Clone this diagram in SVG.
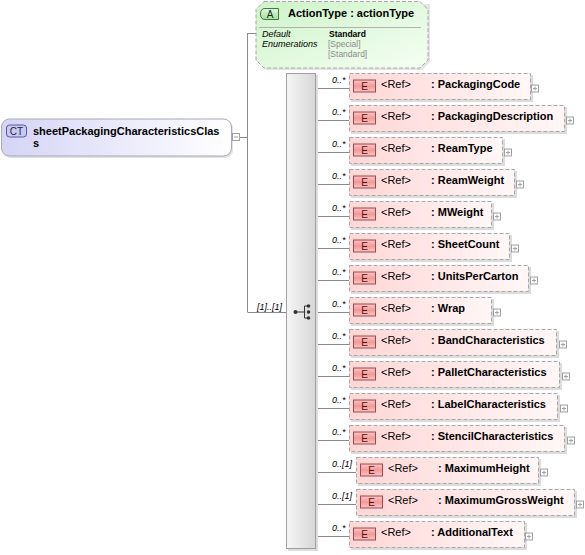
<svg xmlns="http://www.w3.org/2000/svg" width="585" height="555" viewBox="0 0 585 555">
<defs>
<linearGradient id="gEl" x1="0" y1="0" x2="1" y2="0"><stop offset="0" stop-color="#ffd6d6"/><stop offset="1" stop-color="#fff7f7"/></linearGradient>
<linearGradient id="gBadgeE" x1="0" y1="0" x2="0" y2="1"><stop offset="0" stop-color="#ffc4c4"/><stop offset="0.5" stop-color="#f19a9a"/><stop offset="1" stop-color="#ffc4c4"/></linearGradient>
<linearGradient id="gCT" x1="0" y1="0" x2="1" y2="0"><stop offset="0" stop-color="#d4d4f6"/><stop offset="1" stop-color="#ffffff"/></linearGradient>
<linearGradient id="gAttr" x1="0" y1="0" x2="1" y2="1"><stop offset="0" stop-color="#cdf3c8"/><stop offset="1" stop-color="#f6fff4"/></linearGradient>
<linearGradient id="gBadgeA" x1="0" y1="0" x2="0" y2="1"><stop offset="0" stop-color="#e4f8e0"/><stop offset="1" stop-color="#a8dca0"/></linearGradient>
<linearGradient id="gSeq" x1="0" y1="0" x2="1" y2="0"><stop offset="0" stop-color="#f6f6f6"/><stop offset="1" stop-color="#d6d6d6"/></linearGradient>
</defs>
<style>
text{font-family:"Liberation Sans",Arial,sans-serif;}
.conn{stroke:#8a8a8a;stroke-width:1;fill:none;}
.el{fill:url(#gEl);stroke:#a8a8a8;stroke-dasharray:4 2;}
.shadow{fill:#dcdcdc;}
.eb{fill:url(#gBadgeE);stroke:#9a4a4a;stroke-width:1;}
.et{font-size:10px;fill:#5a1010;text-anchor:middle;}
.ref{font-size:11px;fill:#000;}
.nm{font-size:11px;font-weight:bold;fill:#000;}
.card{font-size:9px;font-style:italic;fill:#000;}
.pl{fill:#fff;stroke:#a0a0a0;}
.pls{stroke:#a0a0a0;stroke-width:1;}
</style>
<g id="connectors">
<line class="conn" x1="247.5" y1="33" x2="247.5" y2="312"/>
<line class="conn" x1="247.5" y1="33.5" x2="256" y2="33.5"/>
<line class="conn" x1="240" y1="137.5" x2="247.5" y2="137.5"/>
<line class="conn" x1="247.5" y1="312.5" x2="286" y2="312.5"/>
<line class="conn" x1="316" y1="88.5" x2="349" y2="88.5"/>
<line class="conn" x1="316" y1="120.5" x2="349" y2="120.5"/>
<line class="conn" x1="316" y1="152.5" x2="349" y2="152.5"/>
<line class="conn" x1="316" y1="184.5" x2="349" y2="184.5"/>
<line class="conn" x1="316" y1="216.5" x2="349" y2="216.5"/>
<line class="conn" x1="316" y1="248.5" x2="349" y2="248.5"/>
<line class="conn" x1="316" y1="280.5" x2="349" y2="280.5"/>
<line class="conn" x1="316" y1="312.5" x2="349" y2="312.5"/>
<line class="conn" x1="316" y1="344.5" x2="349" y2="344.5"/>
<line class="conn" x1="316" y1="376.5" x2="349" y2="376.5"/>
<line class="conn" x1="316" y1="408.5" x2="349" y2="408.5"/>
<line class="conn" x1="316" y1="440.5" x2="349" y2="440.5"/>
<line class="conn" x1="316" y1="472.5" x2="356" y2="472.5"/>
<line class="conn" x1="316" y1="504.5" x2="356" y2="504.5"/>
<line class="conn" x1="316" y1="536.5" x2="349" y2="536.5"/>
<text class="card" x="257" y="309.5">[1]..[1]</text>
</g>
<g id="ct">
<rect x="3" y="121" width="230" height="37" rx="8" fill="#e2e2e2"/>
<rect x="1.5" y="119" width="230" height="37" rx="8" fill="url(#gCT)" stroke="#a8a8b8"/>
<rect x="6.5" y="125" width="20" height="12" rx="3" fill="#c9c9ef" stroke="#5a5a96"/>
<text x="16.5" y="134.5" font-size="10" text-anchor="middle" fill="#20204a">CT</text>
<text x="33" y="134.5" font-size="11" font-weight="bold">sheetPackagingCharacteristicsClas</text>
<text x="33" y="146.5" font-size="11" font-weight="bold">s</text>
<rect x="232.5" y="133.5" width="7" height="7" fill="#fff" stroke="#a0a0a0"/>
<line x1="234" y1="137" x2="238" y2="137" stroke="#a0a0a0"/>
</g>
<g id="attr">
<polygon points="266,4 430,4 430,62 422,70 266,70 258,62" fill="#e4e4e4"/>
<polygon points="264,1.5 420,1.5 428,9.5 428,60 420,68 264,68 256,60 256,9.5" fill="url(#gAttr)" stroke="#a8a8a8" stroke-dasharray="4 2"/>
<path d="M265,8.5 H278.5 V19.5 H265 Q260.5,19.5 260.5,14 Q260.5,8.5 265,8.5 Z" fill="url(#gBadgeA)" stroke="#3d7a3d"/>
<text x="270" y="18" font-size="10" text-anchor="middle" fill="#103010">A</text>
<text x="288" y="17" font-size="11" font-weight="bold">ActionType : actionType</text>
<line x1="259" y1="27.5" x2="421" y2="27.5" stroke="#b0b0b0"/>
<text x="262" y="37" font-size="9" font-style="italic">Default</text>
<text x="262" y="47" font-size="9" font-style="italic">Enumerations</text>
<text x="329" y="37" font-size="8.5" font-weight="bold">Standard</text>
<text x="328" y="47" font-size="8.5" fill="#8a8a8a">[Special]</text>
<text x="328" y="57" font-size="8.5" fill="#8a8a8a">[Standard]</text>
</g>
<g id="sequence">
<rect x="288" y="75" width="30" height="476" class="shadow"/>
<rect x="286.5" y="73.5" width="29" height="475" fill="url(#gSeq)" stroke="#a0a0a0"/>
<circle cx="295.5" cy="312" r="2" fill="#333"/>
<line x1="295.5" y1="312" x2="304.5" y2="312" stroke="#333"/>
<line x1="304.5" y1="306" x2="304.5" y2="318" stroke="#333"/>
<line x1="304.5" y1="306" x2="308.5" y2="306" stroke="#333"/>
<line x1="304.5" y1="318" x2="308.5" y2="318" stroke="#333"/>
<circle cx="308.5" cy="306" r="1.8" fill="#333"/>
<circle cx="308.5" cy="312" r="1.8" fill="#333"/>
<circle cx="308.5" cy="318" r="1.8" fill="#333"/>
</g>
<g id="e1"><rect class="shadow" x="351" y="75" width="182" height="27"/><rect class="el" x="349.5" y="73.5" width="181" height="26"/><text class="card" x="332" y="83">0..*</text><rect class="eb" x="353.5" y="80" width="22" height="12"/><text class="et" x="364.5" y="89.5">E</text><text class="ref" x="381" y="87.5">&lt;Ref&gt;</text><text class="nm" x="431" y="87.5">: PackagingCode</text><rect class="pl" x="531.5" y="85" width="7" height="7"/><path class="pls" d="M533,88.5H537M535,86.5V90.5"/></g>
<g id="e2"><rect class="shadow" x="351" y="107" width="216" height="27"/><rect class="el" x="349.5" y="105.5" width="215" height="26"/><text class="card" x="332" y="115">0..*</text><rect class="eb" x="353.5" y="112" width="22" height="12"/><text class="et" x="364.5" y="121.5">E</text><text class="ref" x="381" y="119.5">&lt;Ref&gt;</text><text class="nm" x="431" y="119.5">: PackagingDescription</text><rect class="pl" x="566.5" y="117" width="7" height="7"/><path class="pls" d="M568,120.5H572M570,118.5V122.5"/></g>
<g id="e3"><rect class="shadow" x="351" y="139" width="154" height="27"/><rect class="el" x="349.5" y="137.5" width="153" height="26"/><text class="card" x="332" y="147">0..*</text><rect class="eb" x="353.5" y="144" width="22" height="12"/><text class="et" x="364.5" y="153.5">E</text><text class="ref" x="381" y="151.5">&lt;Ref&gt;</text><text class="nm" x="431" y="151.5">: ReamType</text><rect class="pl" x="504.5" y="149" width="7" height="7"/><path class="pls" d="M506,152.5H510M508,150.5V154.5"/></g>
<g id="e4"><rect class="shadow" x="351" y="171" width="166" height="27"/><rect class="el" x="349.5" y="169.5" width="165" height="26"/><text class="card" x="332" y="179">0..*</text><rect class="eb" x="353.5" y="176" width="22" height="12"/><text class="et" x="364.5" y="185.5">E</text><text class="ref" x="381" y="183.5">&lt;Ref&gt;</text><text class="nm" x="431" y="183.5">: ReamWeight</text><rect class="pl" x="516.5" y="181" width="7" height="7"/><path class="pls" d="M518,184.5H522M520,182.5V186.5"/></g>
<g id="e5"><rect class="shadow" x="351" y="203" width="143" height="27"/><rect class="el" x="349.5" y="201.5" width="142" height="26"/><text class="card" x="332" y="211">0..*</text><rect class="eb" x="353.5" y="208" width="22" height="12"/><text class="et" x="364.5" y="217.5">E</text><text class="ref" x="381" y="215.5">&lt;Ref&gt;</text><text class="nm" x="431" y="215.5">: MWeight</text><rect class="pl" x="493.5" y="213" width="7" height="7"/><path class="pls" d="M495,216.5H499M497,214.5V218.5"/></g>
<g id="e6"><rect class="shadow" x="351" y="235" width="161" height="27"/><rect class="el" x="349.5" y="233.5" width="160" height="26"/><text class="card" x="332" y="243">0..*</text><rect class="eb" x="353.5" y="240" width="22" height="12"/><text class="et" x="364.5" y="249.5">E</text><text class="ref" x="381" y="247.5">&lt;Ref&gt;</text><text class="nm" x="431" y="247.5">: SheetCount</text><rect class="pl" x="511.5" y="245" width="7" height="7"/><path class="pls" d="M513,248.5H517M515,246.5V250.5"/></g>
<g id="e7"><rect class="shadow" x="351" y="267" width="180" height="27"/><rect class="el" x="349.5" y="265.5" width="179" height="26"/><text class="card" x="332" y="275">0..*</text><rect class="eb" x="353.5" y="272" width="22" height="12"/><text class="et" x="364.5" y="281.5">E</text><text class="ref" x="381" y="279.5">&lt;Ref&gt;</text><text class="nm" x="431" y="279.5">: UnitsPerCarton</text><rect class="pl" x="530.5" y="277" width="7" height="7"/><path class="pls" d="M532,280.5H536M534,278.5V282.5"/></g>
<g id="e8"><rect class="shadow" x="351" y="299" width="143" height="27"/><rect class="el" x="349.5" y="297.5" width="142" height="26"/><text class="card" x="332" y="307">0..*</text><rect class="eb" x="353.5" y="304" width="22" height="12"/><text class="et" x="364.5" y="313.5">E</text><text class="ref" x="381" y="311.5">&lt;Ref&gt;</text><text class="nm" x="431" y="311.5">: Wrap</text><rect class="pl" x="493.5" y="309" width="7" height="7"/><path class="pls" d="M495,312.5H499M497,310.5V314.5"/></g>
<g id="e9"><rect class="shadow" x="351" y="331" width="208" height="27"/><rect class="el" x="349.5" y="329.5" width="207" height="26"/><text class="card" x="332" y="339">0..*</text><rect class="eb" x="353.5" y="336" width="22" height="12"/><text class="et" x="364.5" y="345.5">E</text><text class="ref" x="381" y="343.5">&lt;Ref&gt;</text><text class="nm" x="431" y="343.5">: BandCharacteristics</text><rect class="pl" x="559.5" y="341" width="7" height="7"/><path class="pls" d="M561,344.5H565M563,342.5V346.5"/></g>
<g id="e10"><rect class="shadow" x="351" y="363" width="211" height="27"/><rect class="el" x="349.5" y="361.5" width="210" height="26"/><text class="card" x="332" y="371">0..*</text><rect class="eb" x="353.5" y="368" width="22" height="12"/><text class="et" x="364.5" y="377.5">E</text><text class="ref" x="381" y="375.5">&lt;Ref&gt;</text><text class="nm" x="431" y="375.5">: PalletCharacteristics</text><rect class="pl" x="562.5" y="373" width="7" height="7"/><path class="pls" d="M564,376.5H568M566,374.5V378.5"/></g>
<g id="e11"><rect class="shadow" x="351" y="395" width="209" height="27"/><rect class="el" x="349.5" y="393.5" width="208" height="26"/><text class="card" x="332" y="403">0..*</text><rect class="eb" x="353.5" y="400" width="22" height="12"/><text class="et" x="364.5" y="409.5">E</text><text class="ref" x="381" y="407.5">&lt;Ref&gt;</text><text class="nm" x="431" y="407.5">: LabelCharacteristics</text><rect class="pl" x="560.5" y="405" width="7" height="7"/><path class="pls" d="M562,408.5H566M564,406.5V410.5"/></g>
<g id="e12"><rect class="shadow" x="351" y="427" width="216" height="27"/><rect class="el" x="349.5" y="425.5" width="215" height="26"/><text class="card" x="332" y="435">0..*</text><rect class="eb" x="353.5" y="432" width="22" height="12"/><text class="et" x="364.5" y="441.5">E</text><text class="ref" x="381" y="439.5">&lt;Ref&gt;</text><text class="nm" x="431" y="439.5">: StencilCharacteristics</text><rect class="pl" x="567.5" y="437" width="7" height="7"/><path class="pls" d="M569,440.5H573M571,438.5V442.5"/></g>
<g id="e13"><rect class="shadow" x="358" y="459" width="183" height="27"/><rect class="el" x="356.5" y="457.5" width="182" height="26"/><text class="card" x="332" y="467">0..[1]</text><rect class="eb" x="360.5" y="464" width="22" height="12"/><text class="et" x="371.5" y="473.5">E</text><text class="ref" x="388" y="471.5">&lt;Ref&gt;</text><text class="nm" x="438" y="471.5">: MaximumHeight</text><rect class="pl" x="540.5" y="469" width="7" height="7"/><path class="pls" d="M542,472.5H546M544,470.5V474.5"/></g>
<g id="e14"><rect class="shadow" x="358" y="491" width="219" height="27"/><rect class="el" x="356.5" y="489.5" width="218" height="26"/><text class="card" x="332" y="499">0..[1]</text><rect class="eb" x="360.5" y="496" width="22" height="12"/><text class="et" x="371.5" y="505.5">E</text><text class="ref" x="388" y="503.5">&lt;Ref&gt;</text><text class="nm" x="438" y="503.5">: MaximumGrossWeight</text><rect class="pl" x="576.5" y="501" width="7" height="7"/><path class="pls" d="M578,504.5H582M580,502.5V506.5"/></g>
<g id="e15"><rect class="shadow" x="351" y="523" width="176" height="27"/><rect class="el" x="349.5" y="521.5" width="175" height="26"/><text class="card" x="332" y="531">0..*</text><rect class="eb" x="353.5" y="528" width="22" height="12"/><text class="et" x="364.5" y="537.5">E</text><text class="ref" x="381" y="535.5">&lt;Ref&gt;</text><text class="nm" x="431" y="535.5">: AdditionalText</text><rect class="pl" x="525.5" y="533" width="7" height="7"/><path class="pls" d="M527,536.5H531M529,534.5V538.5"/></g>
</svg>
